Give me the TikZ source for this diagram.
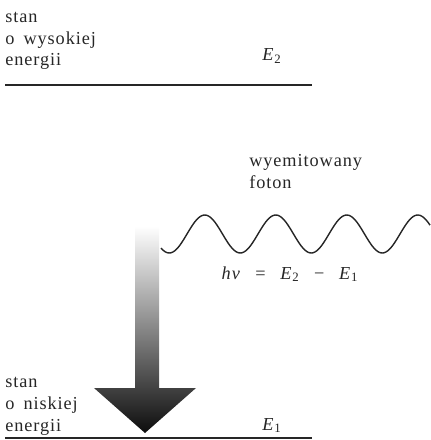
\documentclass[tikz,border=0pt]{standalone}
\usepackage{fontspec}
\setmainfont{Liberation Serif}
\newfontfamily\lblfont[LetterSpace=5]{Liberation Serif}
\usetikzlibrary{positioning}

\begin{document}
\begin{tikzpicture}[x=0.025cm,y=-0.025cm,
    lbl/.style={inner sep=0pt, text=black!85, align=left,
      font=\lblfont\fontsize{13}{15.3}\selectfont},
    level/.style={line width=1.1pt, black!85}]
  \useasboundingbox (0,0) rectangle (430,440);

  % Energy levels
  \coordinate (hiL) at (5,85);
  \coordinate (hiR) at (312,85);
  \coordinate (loL) at (5,438);
  \coordinate (loR) at (312,438);
  \draw[level] (hiL) -- (hiR);
  \draw[level] (loL) -- (loR);

  % Labels of the states
  \node[lbl, anchor=base west] (hi) at (5,66) {stan\\o\enspace wysokiej\\energii};
  \node[lbl, anchor=base west] (lo) at (5,431) {stan\\o\enspace niskiej\\energii};
  \node[lbl, anchor=base] (e2) at (272,61) {\textit{E}\textsubscript{2}};
  \node[lbl, anchor=base] (e1) at (272,430) {\textit{E}\textsubscript{1}};

  % Transition arrow (shaded)
  \shade[top color=white, bottom color=black!95]
    (135,226) -- (159,226) -- (159,388) -- (196,388) -- (145,433)
    -- (94,388) -- (135,388) -- cycle;

  % Emitted photon
  \draw[line width=1pt, black!85] plot[domain=161:430, samples=160]
    (\x, {234-19*sin(5.0704*(\x-187))});
  \node[lbl, anchor=base west] (foton) at (249,188) {wyemitowany\\foton};
  \node[lbl, anchor=base] (eq) at (290,279)
    {\textit{hν}\hspace{0.8em}=\hspace{0.8em}\textit{E}\textsubscript{2}\hspace{0.8em}−\hspace{0.8em}\textit{E}\textsubscript{1}};
\end{tikzpicture}
\end{document}
